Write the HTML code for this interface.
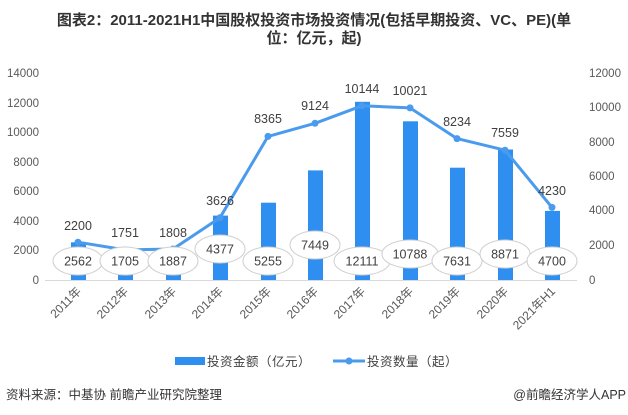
<!DOCTYPE html>
<html><head><meta charset="utf-8"><style>
body{margin:0;background:#fff;}
svg{display:block;font-family:"Liberation Sans","Noto Sans CJK SC",sans-serif;}
</style></head><body>
<svg width="628" height="415" viewBox="0 0 628 415" xmlns="http://www.w3.org/2000/svg">
<text x="314" y="25" text-anchor="middle" font-size="15" font-weight="bold" fill="#333">图表2：2011-2021H1中国股权投资市场投资情况(包括早期投资、VC、PE)(单</text>
<text x="314" y="43" text-anchor="middle" font-size="15" font-weight="bold" fill="#333">位：亿元，起)</text>
<g font-size="11.5" fill="#595959" text-anchor="end">
<text x="39" y="77">14000</text><text x="39" y="107">12000</text><text x="39" y="136">10000</text>
<text x="39" y="166">8000</text><text x="39" y="195">6000</text><text x="39" y="225">4000</text>
<text x="39" y="254">2000</text><text x="39" y="284">0</text>
</g>
<g font-size="11.5" fill="#595959" text-anchor="start">
<text x="589" y="77">12000</text><text x="589" y="111">10000</text><text x="589" y="146">8000</text>
<text x="589" y="180">6000</text><text x="589" y="214">4000</text><text x="589" y="249">2000</text>
<text x="589" y="284">0</text>
</g>
<line x1="45" y1="280.5" x2="577" y2="280.5" stroke="#d9d9d9"/>
<g fill="#2F8FF0">
<rect x="71" y="242.3" width="15" height="37.7"/>
<rect x="118" y="254.9" width="15" height="25.1"/>
<rect x="166" y="252.2" width="15" height="27.8"/>
<rect x="213" y="215.6" width="15" height="64.4"/>
<rect x="261" y="202.7" width="15" height="77.3"/>
<rect x="308" y="170.4" width="15" height="109.6"/>
<rect x="355" y="101.8" width="15" height="178.2"/>
<rect x="403" y="121.3" width="15" height="158.7"/>
<rect x="450" y="167.7" width="15" height="112.3"/>
<rect x="498" y="149.5" width="15" height="130.5"/>
<rect x="545" y="210.9" width="15" height="69.1"/>
</g>
<polyline fill="none" stroke="#4A9BEE" stroke-width="3" stroke-linejoin="round" points="78,242.2 125,249.9 173,249 220,217.7 268,136.4 315,123.3 362,105.8 410,107.9 457,138.6 505,150.2 552,207.4"/>
<g fill="#4A9BEE">
<circle cx="78" cy="242.2" r="3.5"/><circle cx="125" cy="249.9" r="3.5"/><circle cx="173" cy="249" r="3.5"/>
<circle cx="220" cy="217.7" r="3.5"/><circle cx="268" cy="136.4" r="3.5"/><circle cx="315" cy="123.3" r="3.5"/>
<circle cx="362" cy="105.8" r="3.5"/><circle cx="410" cy="107.9" r="3.5"/><circle cx="457" cy="138.6" r="3.5"/>
<circle cx="505" cy="150.2" r="3.5"/><circle cx="552" cy="207.4" r="3.5"/>
</g>
<g font-size="12.5" fill="#404040" text-anchor="middle">
<text x="78" y="230">2200</text><text x="125" y="237">1751</text><text x="173" y="237">1808</text>
<text x="220" y="205">3626</text><text x="268" y="123">8365</text><text x="315" y="110">9124</text>
<text x="362" y="93">10144</text><text x="410" y="95">10021</text><text x="457" y="126">8234</text>
<text x="505" y="137">7559</text><text x="552" y="195">4230</text>
</g>
<g fill="#fff" stroke="#cfcfcf" stroke-width="1">
<ellipse cx="78" cy="261" rx="25" ry="14"/><ellipse cx="125" cy="261" rx="25" ry="14"/>
<ellipse cx="173" cy="261" rx="25" ry="14"/><ellipse cx="220" cy="249" rx="25" ry="14"/>
<ellipse cx="268" cy="261" rx="25" ry="14"/><ellipse cx="315" cy="245" rx="25" ry="14"/>
<ellipse cx="362" cy="261" rx="28" ry="14"/><ellipse cx="410" cy="254" rx="28" ry="14"/>
<ellipse cx="457" cy="261" rx="25" ry="14"/><ellipse cx="505" cy="254" rx="25" ry="14"/>
<ellipse cx="552" cy="261" rx="25" ry="14"/>
</g>
<g font-size="12.5" fill="#404040" text-anchor="middle">
<text x="78" y="265.5">2562</text><text x="125" y="265.5">1705</text><text x="173" y="265.5">1887</text>
<text x="220" y="253.5">4377</text><text x="268" y="265.5">5255</text><text x="315" y="249.5">7449</text>
<text x="362" y="265.5">12111</text><text x="410" y="258.5">10788</text><text x="457" y="265.5">7631</text>
<text x="505" y="258.5">8871</text><text x="552" y="265.5">4700</text>
</g>
<g font-size="12" fill="#595959" text-anchor="end">
<text transform="translate(82,292) rotate(-45)">2011年</text>
<text transform="translate(129,292) rotate(-45)">2012年</text>
<text transform="translate(177,292) rotate(-45)">2013年</text>
<text transform="translate(224,292) rotate(-45)">2014年</text>
<text transform="translate(272,292) rotate(-45)">2015年</text>
<text transform="translate(319,292) rotate(-45)">2016年</text>
<text transform="translate(366,292) rotate(-45)">2017年</text>
<text transform="translate(414,292) rotate(-45)">2018年</text>
<text transform="translate(461,292) rotate(-45)">2019年</text>
<text transform="translate(509,292) rotate(-45)">2020年</text>
<text transform="translate(556,292) rotate(-45)">2021年H1</text>
</g>
<rect x="175" y="357" width="30" height="8" fill="#2F8FF0"/>
<text x="207" y="366" font-size="12.5" letter-spacing="0.5" fill="#404040">投资金额（亿元）</text>
<line x1="333" y1="361" x2="365" y2="361" stroke="#4A9BEE" stroke-width="3"/>
<circle cx="349" cy="361" r="3.5" fill="#4A9BEE"/>
<text x="367" y="366" font-size="12.5" letter-spacing="0.5" fill="#404040">投资数量（起）</text>
<text x="6" y="399" font-size="12.5" fill="#333">资料来源：中基协 前瞻产业研究院整理</text>
<text x="626" y="399" font-size="12.5" fill="#333" text-anchor="end">@前瞻经济学人APP</text>
</svg>
</body></html>
